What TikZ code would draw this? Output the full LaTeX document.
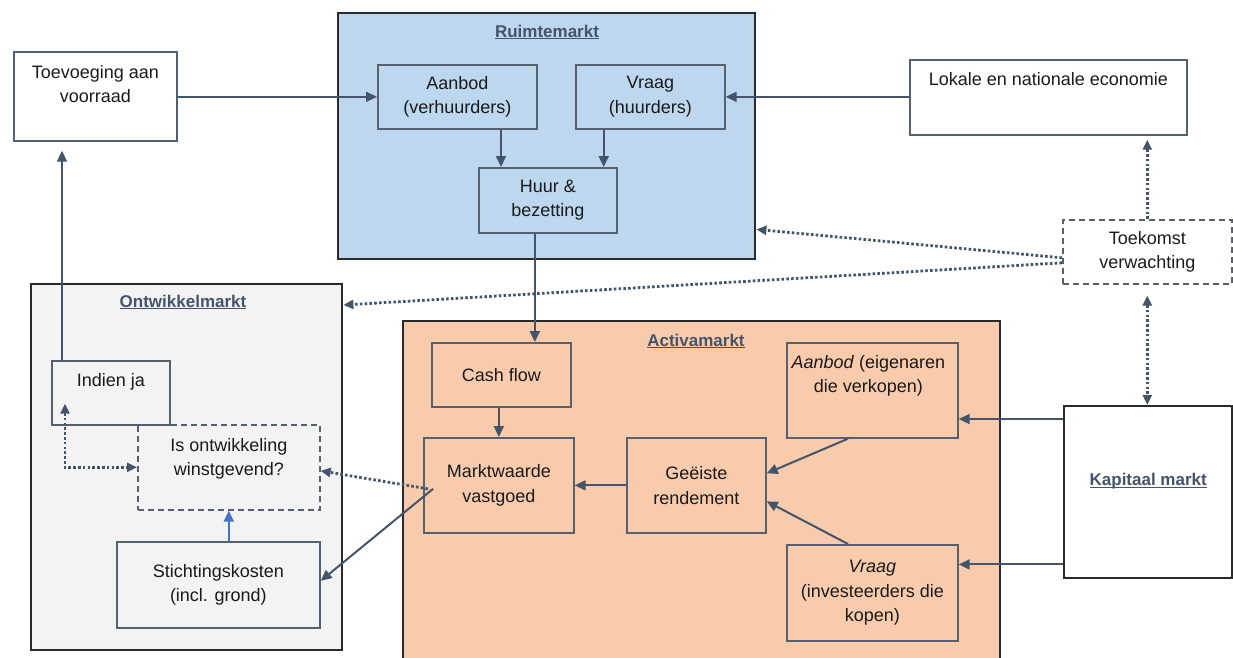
\documentclass[tikz,border=0pt]{standalone}
\usepackage{fontspec}
\setmainfont{Liberation Sans}
\usetikzlibrary{arrows.meta,calc}
\definecolor{slate}{HTML}{44546A}
\definecolor{edge}{HTML}{56606E}
\definecolor{frame}{HTML}{2A2A2A}
\definecolor{ink}{HTML}{1A1A1A}
\definecolor{ruimte}{HTML}{BDD7EE}
\definecolor{activa}{HTML}{F8CBAD}
\definecolor{ontw}{HTML}{F3F3F4}
\definecolor{costblue}{HTML}{4472C4}
\newcommand\mkttitle[1]{\underline{\raisebox{0pt}[\height][0pt]{#1}}}
\begin{document}
\begin{tikzpicture}[x=1pt,y=-1pt,
  every node/.style={font=\fontsize{18}{24.5}\selectfont, text=ink, align=center, inner sep=0pt},
  sized/.style 2 args={rectangle, minimum width=#1, minimum height=#2, anchor=north west},
  box/.style={draw=edge, line width=1.7pt},
  dbox/.style={draw=edge, line width=1.6pt, dash pattern=on 6pt off 4pt},
  framebox/.style={draw=frame, line width=2.4pt},
  title/.style={font=\fontsize{17}{20}\selectfont\bfseries, text=slate},
  conn/.style={draw=slate, line width=2pt, -{Triangle[length=11pt,width=10pt]}},
  dots/.style={draw=slate, line width=2.8pt, dash pattern=on 2.6pt off 2.2pt},
  dtip/.style={-{Triangle[length=10pt,width=9pt]}},
  dtips/.style={{Triangle[length=10pt,width=9pt]}-{Triangle[length=10pt,width=9pt]}}]
\useasboundingbox (0,0) rectangle (1233,657);
\clip (0,0) rectangle (1233,657);

% --- market frames ---
\node[framebox, fill=ruimte, sized={417}{246}] (rm) at (337,12) {};
\node[title] (rmt) at (547,32) {\mkttitle{Ruimtemarkt}};
\node[framebox, fill=ontw, sized={311}{366}] (om) at (30,283) {};
\node[title] (omt) at (183,302) {\mkttitle{Ontwikkelmarkt}};
\node[framebox, fill=activa, sized={597}{360}] (am) at (402,320) {};
\node[title] (amt) at (696,341) {\mkttitle{Activamarkt}};
\node[framebox, fill=white, sized={168}{172}] (kap) at (1063,405) {};
\node[title] (kapt) at ([yshift=12pt]kap.center) {\mkttitle{Kapitaal markt}};

% --- space market ---
\node[box, sized={159}{64}] (aan) at (377,64) {Aanbod\\(verhuurders)};
\node[box, sized={149}{64}] (vr) at (575,64) {Vraag\\(huurders)};
\node[box, sized={138}{65}] (huur) at (478,167) {Huur \&\\bezetting};

% --- outside boxes ---
\node[box, sized={163}{89}] (tv) at (13,51) {};
\node[anchor=north] (tvt) at ([yshift=-14pt]tv.north) {Toevoeging aan\\voorraad};
\node[box, sized={277}{75}] (lok) at (909,59) {};
\node[anchor=north] (lokt) at ([yshift=-13pt]lok.north) {Lokale en nationale economie};
\node[dbox, sized={169}{64}] (tk) at (1062,219) {Toekomst\\verwachting};

% --- development market ---
\node[box, sized={118}{64}] (in) at (51,360) {};
\node[anchor=north] (int) at ([yshift=-13pt]in.north) {Indien ja};
\node[dbox, sized={182}{85}] (is) at (137,424) {};
\node[anchor=north] (ist) at ([yshift=-14pt]is.north) {Is ontwikkeling\\winstgevend?};
\node[box, sized={203}{86}] (st) at (116,541) {Stichtingskosten\\(incl. grond)};

% --- asset market ---
\node[box, sized={139}{64}] (cash) at (431,342) {Cash flow};
\node[box, sized={150}{95}] (mw) at (423,437) {Marktwaarde\\vastgoed};
\node[box, sized={139}{95}] (gee) at (626,437) {Geëiste\\rendement};
\node[box, sized={171}{95}] (ae) at (786,342) {};
\node[anchor=north] (aet) at ([xshift=-4pt,yshift=-13pt]ae.north) {\textit{Aanbod} (eigenaren\\die verkopen)};
\node[box, sized={171}{96}] (vi) at (786,544) {\textit{Vraag}\\(investeerders die\\kopen)};

% --- solid connectors ---
\draw[conn] (tv.east |- aan.west) -- (aan.west);
\draw[conn] (lok.west |- vr.east) -- (vr.east);
\draw[conn] ([xshift=23pt]huur.north west |- aan.south) -- ([xshift=23pt]huur.north west);
\draw[conn] ([xshift=-14pt]huur.north east |- vr.south) -- ([xshift=-14pt]huur.north east);
\draw[conn] ([xshift=-13pt]huur.south) -- ([xshift=-13pt]huur.south |- cash.north);
\draw[conn] (cash.south -| mw.north) -- (mw.north);
\draw[conn] (gee.west) -- (mw.east);
\draw[conn] ([xshift=62pt]ae.south west) -- ([yshift=12pt]gee.east);
\draw[conn] ([xshift=62pt]vi.north west) -- ([yshift=-16pt]gee.east);
\coordinate (k1) at ([yshift=-14pt]kap.north west);
\coordinate (k2) at ([yshift=15pt]kap.south west);
\draw[conn] (k1) -- (k1 -| ae.east);
\draw[conn] (k2) -- (k2 -| vi.east);
\coordinate (up) at ([xshift=11pt]in.north west);
\draw[conn, shorten >=9pt] (up) -- (up |- tv.south);
\draw[conn] ([xshift=10pt,yshift=-3.5pt]mw.west) -- ([yshift=4pt]st.east);
\draw[conn, draw=costblue] (st.north -| is.south) -- (is.south);

% --- dotted expectation links ---
\draw[dots, dtip, shorten >=4pt] (tk.north) -- (tk.north |- lok.south);
\draw[dots, dtips, shorten <=11pt] (tk.south) -- (tk.south |- kap.north);
\draw[dots, dtip] ([yshift=-6pt]tk.west) -- ([yshift=31pt]rm.south east);
\draw[dots, dtip] ([yshift=-11pt]tk.west) -- ([yshift=-22pt]om.north east);
\draw[dots, dtip] ([xshift=5pt,yshift=-3.5pt]mw.west) -- ([yshift=-3.5pt]is.east);
\coordinate (c1) at ([xshift=14pt]in.south west);
\draw[dots, dtips] ([yshift=22pt]c1) |- (is.west);
\end{tikzpicture}
\end{document}
